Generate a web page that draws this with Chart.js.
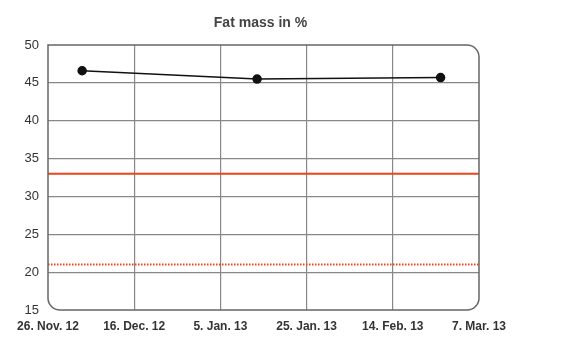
<!DOCTYPE html>
<html>
<head>
<meta charset="utf-8">
<script src="https://cdn.jsdelivr.net/npm/chart.js@4"></script>
<style>
  html, body { margin: 0; padding: 0; background: #fff; }
  #wrap { width: 570px; height: 360px; }
</style>
</head>
<body>
<div id="wrap"><canvas id="myChart" width="570" height="360"></canvas></div>
<script>
// chart data
const title = 'Fat mass in %';
const measureDates = ['2012-12-04', '2013-01-14', '2013-02-26'];
const fatValues = [46.6, 45.5, 45.7];
const targetLine = 33;     // solid red line
const lowerLine = 21;      // dotted red line
const tickLabels = ['26. Nov. 12', '16. Dec. 12', '5. Jan. 13', '25. Jan. 13', '14. Feb. 13', '7. Mar. 13'];
const startDate = '2012-11-26';
const endDate = '2013-03-07';

const DAY = 86400000;
const dayOf = (s) => Math.round((Date.parse(s) - Date.parse(startDate)) / DAY);
const xMax = dayOf(endDate);

const points = measureDates.map((d, i) => ({ x: dayOf(d), y: fatValues[i] }));

// rounded frame around the plot area + title
const framePlugin = {
  id: 'frame',
  afterDraw(chart) {
    const { ctx, chartArea: a } = chart;
    ctx.save();
    ctx.strokeStyle = '#666';
    ctx.lineWidth = 1.5;
    ctx.beginPath();
    ctx.roundRect(a.left, a.top, a.right - a.left, a.bottom - a.top, [0, 12, 12, 12]);
    ctx.stroke();
    ctx.fillStyle = '#444';
    ctx.font = 'bold 14px Arial, "Liberation Sans", sans-serif';
    ctx.textAlign = 'center';
    ctx.textBaseline = 'middle';
    ctx.fillText(title, (a.left + a.right) / 2 - 3, 23);
    ctx.restore();
  }
};

const edgeColor = (ctx, n) => (ctx.index === 0 || ctx.index === n) ? 'rgba(0,0,0,0)' : '#888';

const ctx = document.getElementById('myChart');
new Chart(ctx, {
  type: 'scatter',
  data: {
    datasets: [
      {
        label: 'Fat mass',
        data: points,
        showLine: true,
        borderColor: '#111',
        backgroundColor: '#111',
        borderWidth: 1.5,
        pointRadius: 4,
        order: 0
      },
      {
        label: 'Target',
        data: [{ x: 0, y: targetLine }, { x: xMax, y: targetLine }],
        showLine: true,
        borderColor: '#f0421a',
        borderWidth: 2,
        pointRadius: 0,
        order: 1
      },
      {
        label: 'Lower',
        data: [{ x: 0, y: lowerLine }, { x: xMax, y: lowerLine }],
        showLine: true,
        borderColor: '#f0421a',
        borderWidth: 2,
        borderDash: [1.5, 1.5],
        pointRadius: 0,
        order: 1
      }
    ]
  },
  options: {
    responsive: false,
    animation: false,
    layout: { padding: { left: 0, right: 91, top: 45, bottom: 0 } },
    plugins: {
      legend: { display: false },
      title: { display: false },
      tooltip: { enabled: false }
    },
    scales: {
      x: {
        type: 'linear',
        min: 0,
        max: xMax,
        afterBuildTicks(scale) {
          scale.ticks = tickLabels.map((_, i) => ({ value: i * xMax / (tickLabels.length - 1) }));
        },
        afterFit(scale) { scale.height = 50; },
        border: { display: false },
        grid: {
          drawTicks: false,
          lineWidth: 1.2,
          color: (c) => edgeColor(c, tickLabels.length - 1)
        },
        ticks: {
          padding: 9,
          maxRotation: 0,
          autoSkip: false,
          color: '#333',
          font: { family: 'Arial, "Liberation Sans", sans-serif', size: 12, weight: 'bold' },
          callback: (v, i) => tickLabels[i]
        }
      },
      y: {
        min: 15,
        max: 50,
        afterFit(scale) { scale.width = 48; },
        border: { display: false },
        grid: {
          drawTicks: false,
          lineWidth: 1.2,
          color: (c) => edgeColor(c, 7)
        },
        ticks: {
          stepSize: 5,
          padding: 9,
          color: '#333',
          font: { family: 'Arial, "Liberation Sans", sans-serif', size: 13 }
        }
      }
    }
  },
  plugins: [framePlugin]
});
</script>
</body>
</html>
